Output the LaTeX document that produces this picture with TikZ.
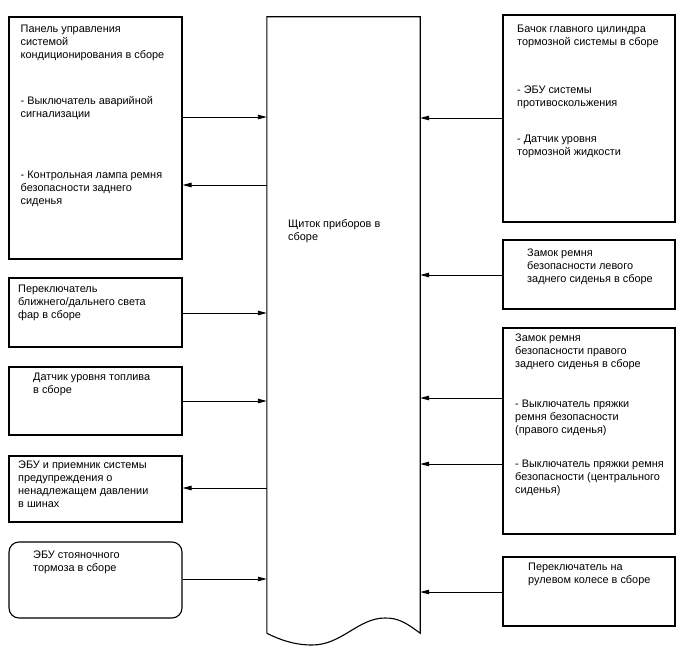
\documentclass[tikz,border=0pt]{standalone}
\usepackage{fontspec}
\setmainfont{Liberation Sans}
\usetikzlibrary{arrows.meta,positioning}

\begin{document}
\begin{tikzpicture}[x=1pt,y=-1pt,unit/.style={draw,line width=1.1pt,inner sep=0pt,minimum width=173pt},arrow/.style={-{Triangle[length=9pt,width=4.5pt]},line width=.9pt},txt/.style={anchor=north west,align=left,inner sep=0pt,font=\fontsize{10.9}{13}\selectfont}]
 \useasboundingbox (0,0) rectangle (688,658);
 % dashboard in the middle
 \node[minimum width=153pt,minimum height=616pt,inner sep=0pt] (dash) at (343.5,325) {};
 \draw[line width=1.1pt] (dash.south west) -- (dash.north west) -- (dash.north east) -- (dash.south east) .. controls (405,622) and (398,618) .. (385,618) .. controls (358,618) and (342,645) .. (312,645) .. controls (295,645) and (280,640) .. (dash.south west);
 \node[txt] (dasht) at (288,219.5) {Щиток приборов в\\сборе};
 % left column
 \node[unit,minimum height=242pt] (l1) at (95.5,138) {}; \node[unit,minimum height=69pt] (l2) at (95.5,312.5) {};
 \node[unit,minimum height=68pt] (l3) at (95.5,401) {}; \node[unit,minimum height=66pt] (l4) at (95.5,489) {};
 \node[unit,minimum height=76pt,rounded corners=10pt] (l5) at (95.5,580) {};
 \node[txt] (l1t) at (20.5,24.5) {Панель управления\\системой\\кондиционирования в сборе\\[33pt]- Выключатель аварийной\\сигнализации\\[48pt]- Контрольная лампа ремня\\безопасности заднего\\сиденья};
 \node[txt] (l2t) at (18,284.5) {Переключатель\\ближнего/дальнего света\\фар в сборе};
 \node[txt] (l3t) at (33,372.5) {Датчик уровня топлива\\в сборе};
 \node[txt] (l4t) at (18,460.5) {ЭБУ и приемник системы\\предупреждения о\\ненадлежащем давлении\\в шинах};
 \node[txt] (l5t) at (33,550.5) {ЭБУ стояночного\\тормоза в сборе};
 % right column
 \node[unit,minimum width=172pt,minimum height=207pt] (r1) at (589,118.5) {}; \node[unit,minimum width=172pt,minimum height=69pt] (r2) at (589,274.5) {};
 \node[unit,minimum width=172pt,minimum height=206pt] (r3) at (589,431) {}; \node[unit,minimum width=172pt,minimum height=69pt] (r4) at (589,591.5) {};
 \node[txt] (r1t) at (517,24.5) {Бачок главного цилиндра\\тормозной системы в сборе\\[35pt]- ЭБУ системы\\противоскольжения\\[23pt]- Датчик уровня\\тормозной жидкости};
 \node[txt] (r2t) at (527,248.5) {Замок ремня\\безопасности левого\\заднего сиденья в сборе};
 \node[txt] (r3t) at (515,333.5) {Замок ремня\\безопасности правого\\заднего сиденья в сборе\\[27pt]- Выключатель пряжки\\ремня безопасности\\(правого сиденья)\\[21pt]- Выключатель пряжки ремня\\безопасности (центрального\\сиденья)};
 \node[txt] (r4t) at (528,562.5) {Переключатель на\\рулевом колесе в сборе};
 % signals
 \draw[arrow] (l1.east|-0,117)--(dash.west|-0,117); \draw[arrow] (dash.west|-0,185)--(l1.east|-0,185);
 \draw[arrow] (l2.east|-0,313)--(dash.west|-0,313); \draw[arrow] (l3.east|-0,401)--(dash.west|-0,401);
 \draw[arrow] (dash.west|-0,488)--(l4.east|-0,488); \draw[arrow] (l5.east|-0,579)--(dash.west|-0,579);
 \draw[arrow] (r1.west|-0,118)--(dash.east|-0,118); \draw[arrow] (r2.west|-0,275)--(dash.east|-0,275);
 \draw[arrow] (r3.west|-0,398)--(dash.east|-0,398); \draw[arrow] (r3.west|-0,464)--(dash.east|-0,464);
 \draw[arrow] (r4.west|-0,592)--(dash.east|-0,592);
\end{tikzpicture}
\end{document}
